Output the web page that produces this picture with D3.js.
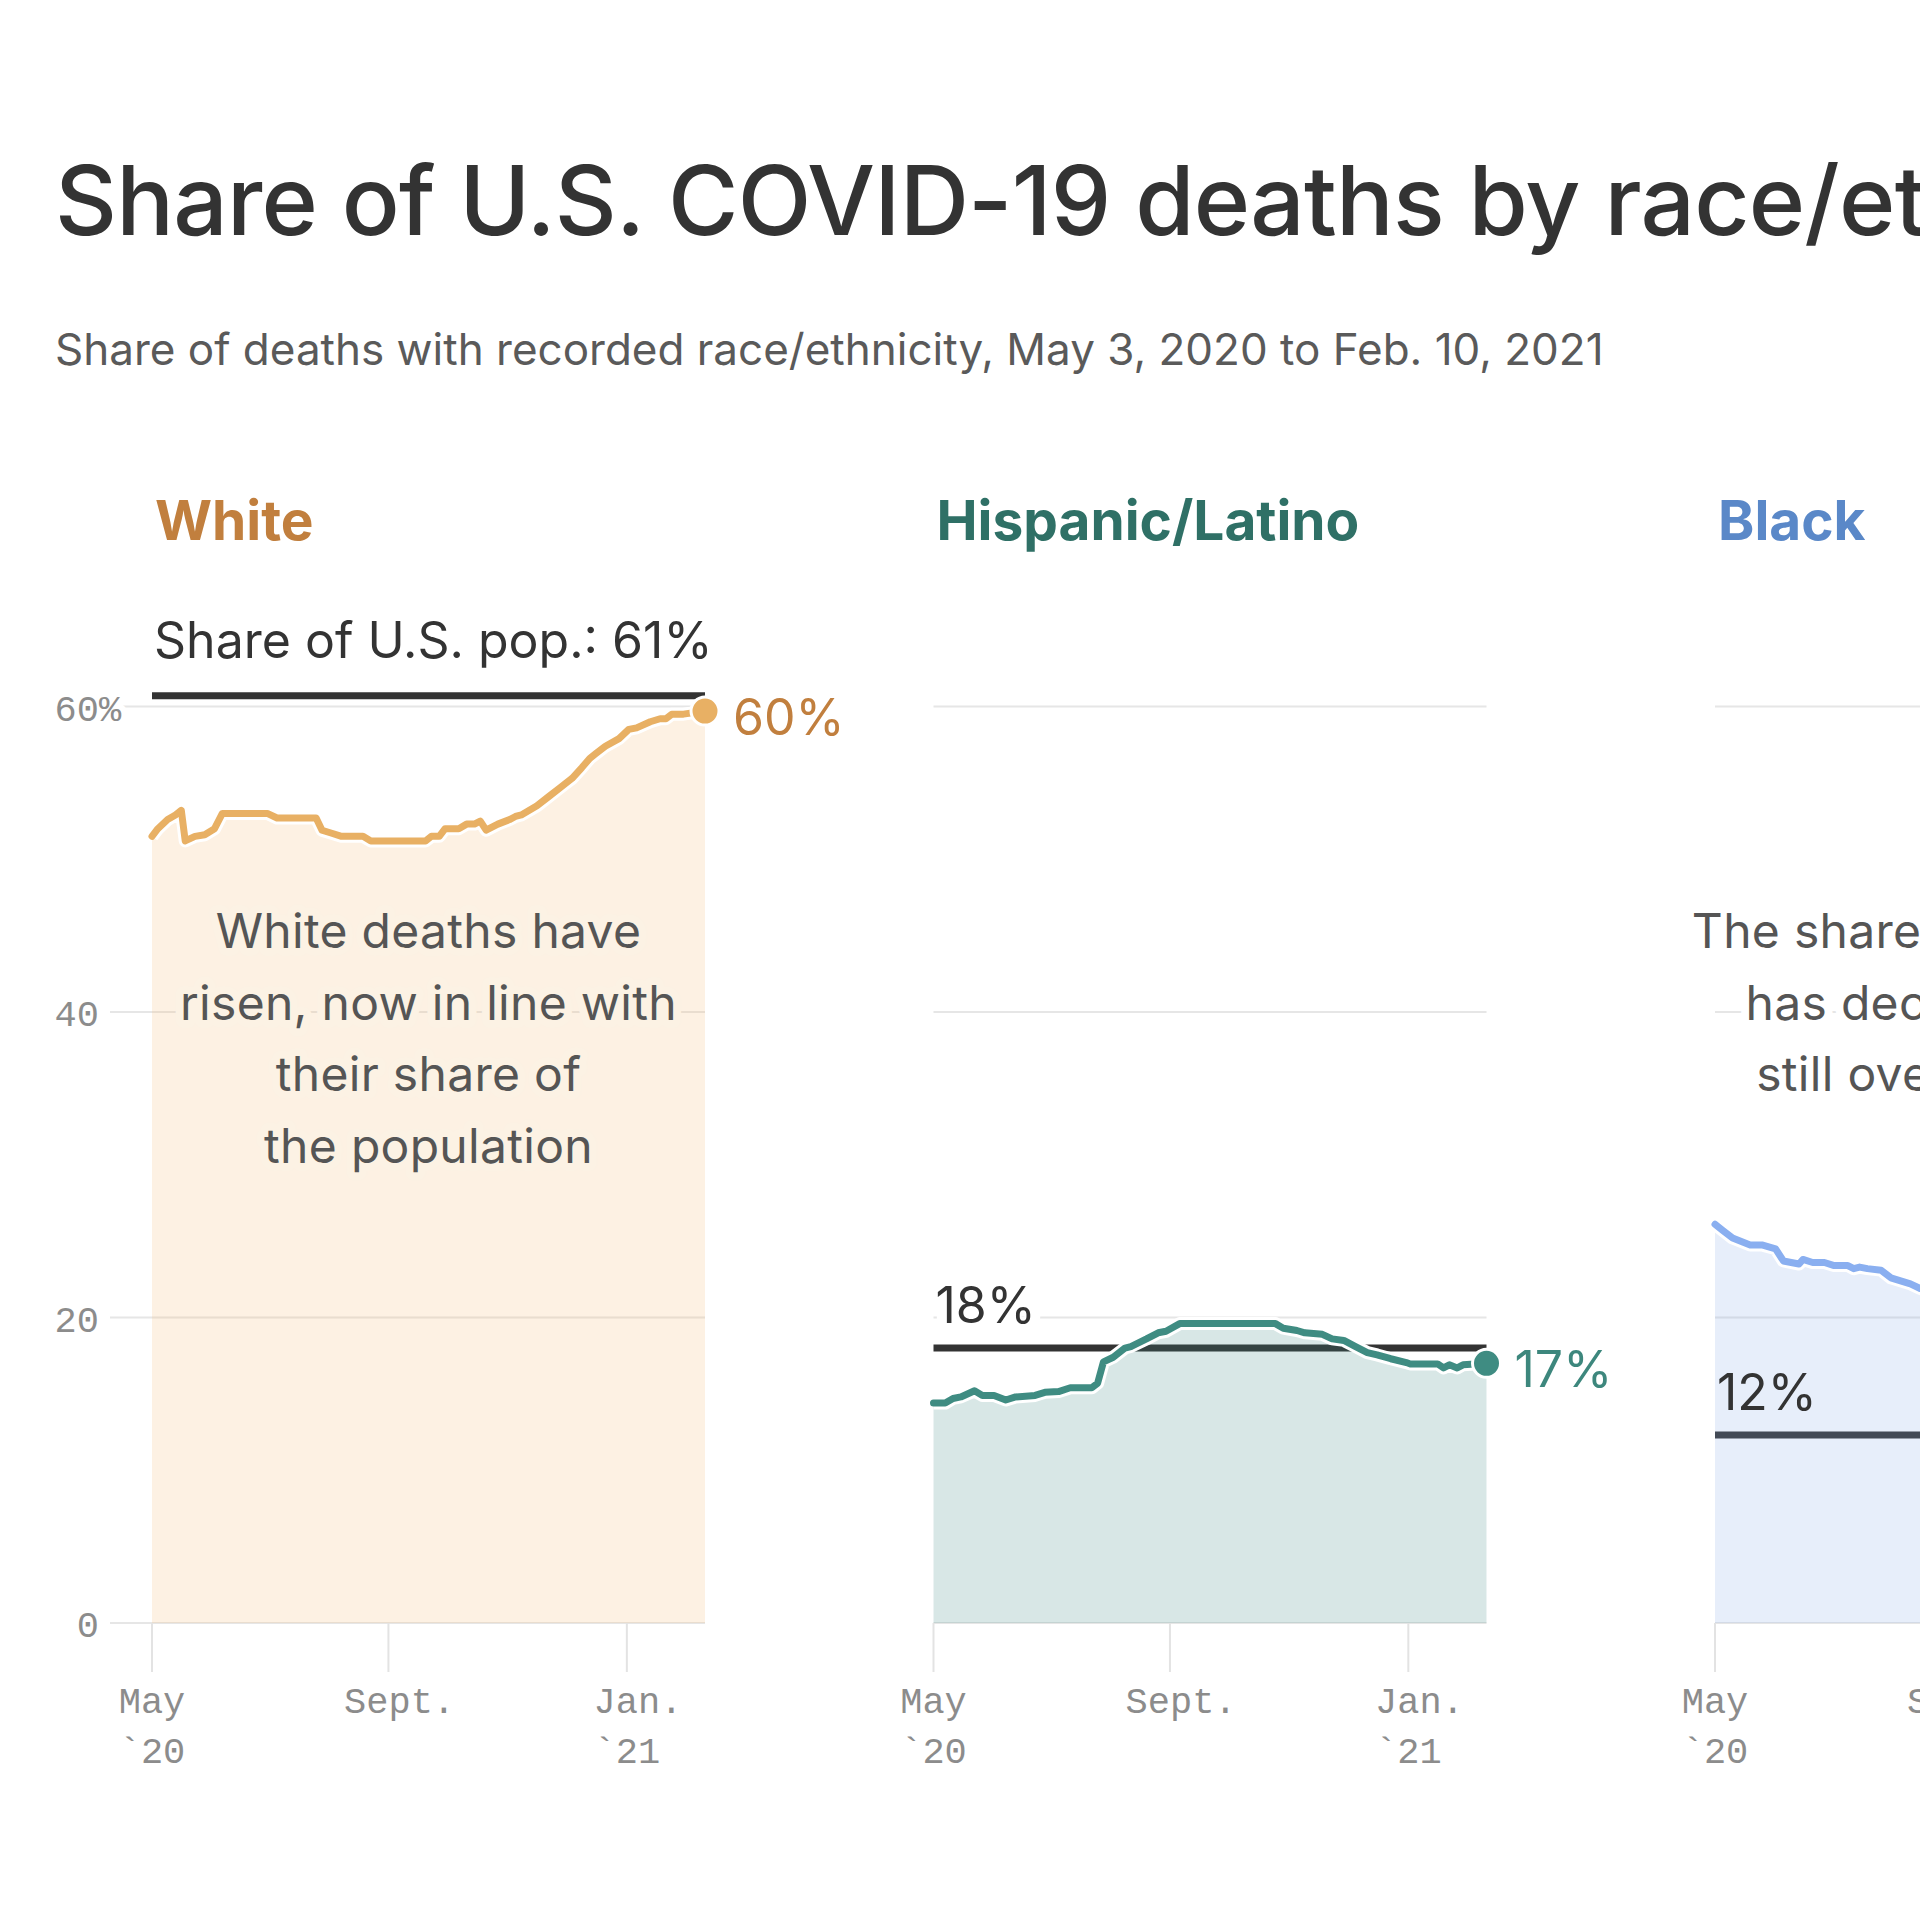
<!DOCTYPE html>
<html><head><meta charset="utf-8">
<script src="https://cdn.jsdelivr.net/npm/d3@7"></script>
<style>
body{margin:0;background:#fff;}
svg{display:block;}
</style></head><body>
<svg id="chart" width="1920" height="1920"></svg>
<script>
// ---------- DATA ----------
const titleText = "Share of U.S. COVID-19 deaths by race/ethnicity";
const subtitleText = "Share of deaths with recorded race/ethnicity, May 3, 2020 to Feb. 10, 2021";
const panelNames = ["White", "Hispanic/Latino", "Black"];
const popShare = [60.7, 18.0, 12.3];
const popLabels = ["Share of U.S. pop.: 61%", "18%", "12%"];

const whiteDates = ["2020-05-03","2020-05-06","2020-05-11","2020-05-15","2020-05-18","2020-05-20","2020-05-25","2020-05-30","2020-06-04","2020-06-08","2020-07-01","2020-07-06","2020-07-26","2020-07-29","2020-08-03","2020-08-08","2020-08-19","2020-08-23","2020-09-20","2020-09-23","2020-09-27","2020-09-30","2020-10-07","2020-10-11","2020-10-15","2020-10-18","2020-10-21","2020-10-27","2020-11-02","2020-11-05","2020-11-08","2020-11-16","2020-11-22","2020-11-28","2020-12-04","2020-12-09","2020-12-13","2020-12-16","2020-12-21","2020-12-28","2021-01-02","2021-01-06","2021-01-13","2021-01-18","2021-01-21","2021-01-24","2021-01-30","2021-02-10"];
const whiteValues = [51.5,52.0,52.6,52.9,53.2,51.2,51.5,51.6,52.0,53.0,53.0,52.7,52.7,51.9,51.7,51.5,51.5,51.2,51.2,51.5,51.5,52.0,52.0,52.3,52.3,52.5,51.9,52.3,52.6,52.8,52.9,53.5,54.1,54.7,55.3,56.0,56.6,56.9,57.4,57.9,58.5,58.6,59.0,59.2,59.2,59.5,59.5,59.7];

const hispanicDates = ["2020-05-03","2020-05-09","2020-05-13","2020-05-17","2020-05-24","2020-05-28","2020-06-03","2020-06-09","2020-06-14","2020-06-24","2020-06-29","2020-07-06","2020-07-12","2020-07-23","2020-07-26","2020-07-29","2020-08-03","2020-08-09","2020-08-12","2020-08-20","2020-08-26","2020-08-30","2020-09-06","2020-10-25","2020-10-29","2020-11-05","2020-11-09","2020-11-18","2020-11-23","2020-11-29","2020-12-05","2020-12-11","2020-12-16","2020-12-23","2020-12-31","2021-01-02","2021-01-16","2021-01-19","2021-01-22","2021-01-26","2021-01-29","2021-02-10"];
const hispanicValues = [14.4,14.4,14.7,14.8,15.2,14.9,14.9,14.6,14.8,14.9,15.1,15.15,15.4,15.4,15.7,17.1,17.4,18.0,18.1,18.6,19.0,19.1,19.6,19.6,19.3,19.15,19.0,18.9,18.6,18.5,18.1,17.7,17.55,17.3,17.05,16.96,16.96,16.7,16.9,16.7,16.9,17.0];

const blackDates = ["2020-05-03","2020-05-07","2020-05-12","2020-05-21","2020-05-27","2020-06-03","2020-06-07","2020-06-15","2020-06-17","2020-06-22","2020-06-28","2020-07-03","2020-07-10","2020-07-13","2020-07-16","2020-07-20","2020-07-27","2020-08-01","2020-08-06","2020-08-11","2020-08-16","2020-09-01","2020-10-01","2020-11-01","2020-12-01","2021-01-01","2021-02-10"];
const blackValues = [26.1,25.7,25.2,24.75,24.75,24.5,23.7,23.5,23.8,23.6,23.6,23.4,23.4,23.2,23.3,23.2,23.1,22.6,22.4,22.2,21.9,21.4,20.6,19.6,18.0,16.8,16.0];

const yTicks = [0, 20, 40, 60];
const yTickSuffix = ["", "", "", "%"];
const xTickDates = ["2020-05-03", "2020-09-01", "2021-01-01"];
const xTickLine1 = ["May", "Sept.", "Jan."];
const xTickLine2 = ["`20", "", "`21"];
const domainDates = ["2020-05-03", "2021-02-10"];

const annotations = [
  ["White deaths have", "risen, now in line with", "their share of", "the population"],
  [],
  ["The share of Black deaths", "has decreased, but is", "still overrepresented"]
];

// ---------- STYLE ----------
const lineColors = ["#e8b064", "#3f8c82", "#8aaff0"];
const areaColors = ["#f3bb72", "#3c8782", "#87aae6"];
const titleColors = ["#c17f3e", "#2f7066", "#5a88c8"];
const endLabelColors = ["#c17f3e", "#3d877d", "#5a88c8"];
const annoHalo = ["#fcf2e4", "#ffffff", "#ffffff"];
const popHalo = ["#ffffff", "#ffffff", "none"];
const popLabelGap = [38, 25, 25];

const sans = "Inter, 'Noto Sans', sans-serif";
const mono = "'Liberation Mono', 'DejaVu Sans Mono', monospace";

const panelLeft0 = 152, panelStep = 781.5, panelW = 553;
const yBottom = 1623, yTop = 706.5;

const parse = d3.timeParse("%Y-%m-%d");
const series = [
  whiteDates.map((d, i) => ({date: parse(d), v: whiteValues[i]})),
  hispanicDates.map((d, i) => ({date: parse(d), v: hispanicValues[i]})),
  blackDates.map((d, i) => ({date: parse(d), v: blackValues[i]}))
];

const svg = d3.select("#chart");
svg.append("rect").attr("width", 1920).attr("height", 1920).attr("fill", "#fff");

svg.append("text").attr("x", 55).attr("y", 235)
  .attr("font-family", sans).attr("font-size", 96).attr("font-weight", 500)
  .attr("letter-spacing", -0.8).attr("fill", "#333").text(titleText);
svg.append("text").attr("x", 55).attr("y", 365)
  .attr("font-family", sans).attr("font-size", 44).attr("font-weight", 400)
  .attr("letter-spacing", 0).attr("fill", "#5a5a5a").text(subtitleText);

const x = d3.scaleTime().domain(domainDates.map(parse)).range([0, panelW]);
const y = d3.scaleLinear().domain([0, 60]).range([yBottom, yTop]);

const area = d3.area().x(d => x(d.date)).y0(y(0)).y1(d => y(d.v));
const line = d3.line().x(d => x(d.date)).y(d => y(d.v));

panelNames.forEach((name, i) => {
  const g = svg.append("g").attr("transform", `translate(${panelLeft0 + i * panelStep},0)`);
  const data = series[i];

  // panel title
  g.append("text").attr("x", 3).attr("y", 540)
    .attr("font-family", sans).attr("font-size", 55).attr("font-weight", 700)
    .attr("fill", titleColors[i]).text(name);

  // gridlines
  g.selectAll(".grid").data(yTicks).join("line")
    .attr("x1", i === 0 ? -42 : 0).attr("x2", panelW)
    .attr("y1", d => y(d)).attr("y2", d => y(d))
    .attr("stroke", "#e6e6e6").attr("stroke-width", 2);

  // x ticks
  const tickDates = xTickDates.map(parse);
  g.selectAll(".xtick").data(tickDates).join("line")
    .attr("x1", d => x(d)).attr("x2", d => x(d))
    .attr("y1", yBottom).attr("y2", yBottom + 49)
    .attr("stroke", "#e3e3e3").attr("stroke-width", 2);

  const xl = g.selectAll(".xlab").data(tickDates).join("text")
    .attr("font-family", mono).attr("font-size", 37).attr("fill", "#8c8c8c");
  xl.each(function(d, k) {
    const t = d3.select(this);
    t.append("tspan").attr("x", 0).attr("y", 1713).text(xTickLine1[k]);
    if (xTickLine2[k]) t.append("tspan").attr("x", 0).attr("y", 1763).text(xTickLine2[k]);
    const charW = this.querySelector("tspan").getComputedTextLength() / xTickLine1[k].length;
    const n = xTickLine1[k].replace(/\.$/, "").length;
    const left = x(d) - charW * n / 2;
    t.selectAll("tspan").attr("x", left);
  });

  // y labels (first panel only): numbers right-aligned, suffix hangs outside
  if (i === 0) {
    yTicks.forEach((t, k) => {
      const base = y(t) + 14;
      const lab = g.append("text").attr("x", -53).attr("y", base).attr("text-anchor", "end")
        .attr("font-family", mono).attr("font-size", 37).attr("fill", "#8c8c8c")
        .attr("stroke", "#fff").attr("stroke-width", 12).attr("stroke-linejoin", "round")
        .attr("paint-order", "stroke").text(t);
      if (yTickSuffix[k]) {
        const w = lab.node().getComputedTextLength();
        lab.attr("text-anchor", "start").attr("x", -53 - w).text(t + yTickSuffix[k]);
      }
    });
  }

  // population line
  const py = y(popShare[i]);
  g.append("line").attr("x1", 0).attr("x2", panelW).attr("y1", py).attr("y2", py)
    .attr("stroke", "#333").attr("stroke-width", 7);

  // area
  g.append("path").datum(data).attr("d", area)
    .attr("fill", areaColors[i]).attr("fill-opacity", 0.2);

  // annotation
  annotations[i].forEach((txt, k) => {
    g.append("text").attr("x", panelW / 2).attr("y", 948 + k * 71.5)
      .attr("text-anchor", "middle").attr("font-family", sans).attr("font-size", 48)
      .attr("letter-spacing", 0.3)
      .attr("fill", "#555").attr("stroke", annoHalo[i]).attr("stroke-width", 16)
      .attr("stroke-linejoin", "round").attr("paint-order", "stroke").text(txt);
  });

  // pop label
  g.append("text").attr("x", 2).attr("y", py - popLabelGap[i])
    .attr("font-family", sans).attr("font-size", 50).attr("fill", "#333")
    .attr("stroke", popHalo[i]).attr("stroke-width", 20).attr("stroke-linejoin", "round")
    .attr("paint-order", "stroke").text(popLabels[i]);

  // data line with halo
  g.append("path").datum(data).attr("d", line).attr("fill", "none")
    .attr("stroke", "#fff").attr("stroke-width", 13).attr("stroke-linejoin", "round");
  g.append("path").datum(data).attr("d", line).attr("fill", "none")
    .attr("stroke", lineColors[i]).attr("stroke-width", 7)
    .attr("stroke-linejoin", "round").attr("stroke-linecap", "round");

  // end dot + label
  const last = data[data.length - 1];
  const dx = x(last.date), dy = y(last.v);
  g.append("circle").attr("cx", dx).attr("cy", dy).attr("r", 14)
    .attr("fill", lineColors[i]).attr("stroke", "#fff").attr("stroke-width", 3);
  g.append("text").attr("x", dx + 28).attr("y", dy + 24)
    .attr("font-family", sans).attr("font-size", 50).attr("fill", endLabelColors[i])
    .text(Math.round(last.v) + "%");
});
</script>
</body></html>
